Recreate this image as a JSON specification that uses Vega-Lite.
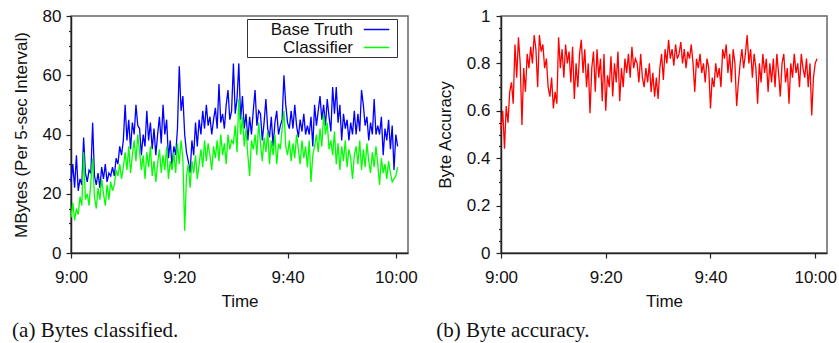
{
  "$schema": "https://vega.github.io/schema/vega-lite/v6.json",
  "padding": {"left": 11, "top": 6, "right": 5, "bottom": 0},
  "config": {
    "view": {"stroke": "#666", "strokeWidth": 1.5},
    "font": "Liberation Sans",
    "axis": {"labelFont": "Liberation Sans", "labelFontSize": 17, "titleFont": "Liberation Sans", "titleFontSize": 17, "titleFontWeight": "normal", "labelColor": "#111", "titleColor": "#111", "domainColor": "#222", "domainWidth": 1.5, "tickColor": "#222", "tickWidth": 1.2, "grid": false},
    "title": {"font": "Liberation Serif", "fontSize": 21, "fontWeight": "normal", "color": "#111", "orient": "bottom", "anchor": "start", "frame": "bounds", "offset": 11},
    "concat": {"spacing": 17}
  },
  "datasets": {
    "d": [
      {"t":0,"b":24,"c":12,"a":0.52},{"t":20,"b":30,"c":17,"a":0.60},{"t":40,"b":22,"c":11,"a":0.44},
      {"t":60,"b":33,"c":15,"a":0.62},{"t":80,"b":21,"c":13,"a":0.55},{"t":100,"b":25,"c":19,"a":0.68},
      {"t":120,"b":23,"c":16,"a":0.72},{"t":140,"b":39,"c":34,"a":0.63},{"t":160,"b":27,"c":18,"a":0.88},
      {"t":180,"b":24,"c":20,"a":0.74},{"t":200,"b":28,"c":16,"a":0.91},{"t":220,"b":27,"c":24,"a":0.80},
      {"t":240,"b":44,"c":32,"a":0.54},{"t":260,"b":26,"c":19,"a":0.78},{"t":280,"b":23,"c":15,"a":0.68},
      {"t":300,"b":27,"c":22,"a":0.84},{"t":320,"b":22,"c":18,"a":0.78},{"t":340,"b":29,"c":25,"a":0.87},
      {"t":360,"b":25,"c":20,"a":0.80},{"t":380,"b":30,"c":16,"a":0.92},{"t":400,"b":24,"c":23,"a":0.86},
      {"t":420,"b":27,"c":18,"a":0.70},{"t":440,"b":26,"c":24,"a":0.92},{"t":460,"b":29,"c":21,"a":0.85},
      {"t":480,"b":26,"c":23,"a":0.88},{"t":500,"b":32,"c":28,"a":0.78},{"t":520,"b":30,"c":26,"a":0.82},
      {"t":540,"b":36,"c":30,"a":0.70},{"t":560,"b":33,"c":25,"a":0.66},{"t":580,"b":38,"c":29,"a":0.74},
      {"t":600,"b":50,"c":34,"a":0.61},{"t":620,"b":38,"c":28,"a":0.68},{"t":640,"b":45,"c":36,"a":0.63},
      {"t":660,"b":35,"c":27,"a":0.91},{"t":680,"b":44,"c":33,"a":0.78},{"t":700,"b":40,"c":38,"a":0.86},
      {"t":720,"b":50,"c":31,"a":0.74},{"t":740,"b":43,"c":40,"a":0.88},{"t":760,"b":42,"c":34,"a":0.80},
      {"t":780,"b":33,"c":28,"a":0.85},{"t":800,"b":40,"c":33,"a":0.72},{"t":820,"b":36,"c":25,"a":0.87},
      {"t":840,"b":48,"c":34,"a":0.65},{"t":860,"b":38,"c":29,"a":0.80},{"t":880,"b":44,"c":36,"a":0.70},
      {"t":900,"b":35,"c":26,"a":0.84},{"t":920,"b":42,"c":31,"a":0.90},{"t":940,"b":33,"c":24,"a":0.76},
      {"t":960,"b":40,"c":30,"a":0.86},{"t":980,"b":46,"c":35,"a":0.70},{"t":1000,"b":37,"c":27,"a":0.80},
      {"t":1020,"b":50,"c":33,"a":0.59},{"t":1040,"b":40,"c":28,"a":0.78},{"t":1060,"b":45,"c":36,"a":0.85},
      {"t":1080,"b":32,"c":25,"a":0.68},{"t":1100,"b":38,"c":31,"a":0.86},{"t":1120,"b":29,"c":28,"a":0.74},
      {"t":1140,"b":36,"c":34,"a":0.82},{"t":1160,"b":33,"c":27,"a":0.64},{"t":1180,"b":42,"c":37,"a":0.84},
      {"t":1200,"b":63,"c":30,"a":0.60},{"t":1220,"b":48,"c":38,"a":0.75},{"t":1240,"b":53,"c":32,"a":0.70},
      {"t":1260,"b":40,"c":7.5,"a":0.83},{"t":1280,"b":34,"c":26,"a":0.66},{"t":1300,"b":31,"c":30,"a":0.80},
      {"t":1320,"b":27,"c":22,"a":0.72},{"t":1340,"b":38,"c":31,"a":0.85},{"t":1360,"b":33,"c":27,"a":0.64},
      {"t":1380,"b":44,"c":33,"a":0.78},{"t":1400,"b":36,"c":25,"a":0.70},{"t":1420,"b":45,"c":30,"a":0.82},
      {"t":1440,"b":40,"c":35,"a":0.76},{"t":1460,"b":48,"c":29,"a":0.84},{"t":1480,"b":42,"c":38,"a":0.74},
      {"t":1500,"b":50,"c":31,"a":0.87},{"t":1520,"b":43,"c":37,"a":0.78},{"t":1540,"b":46,"c":33,"a":0.82},
      {"t":1560,"b":40,"c":28,"a":0.80},{"t":1580,"b":45,"c":36,"a":0.72},{"t":1600,"b":49,"c":32,"a":0.84},
      {"t":1620,"b":42,"c":38,"a":0.74},{"t":1640,"b":57,"c":31,"a":0.70},{"t":1660,"b":44,"c":40,"a":0.78},
      {"t":1680,"b":47,"c":33,"a":0.72},{"t":1700,"b":42,"c":37,"a":0.80},{"t":1720,"b":50,"c":30,"a":0.68},
      {"t":1740,"b":55,"c":40,"a":0.76},{"t":1760,"b":45,"c":35,"a":0.66},{"t":1780,"b":48,"c":38,"a":0.74},
      {"t":1800,"b":64,"c":37,"a":0.65},{"t":1820,"b":47,"c":43,"a":0.78},{"t":1840,"b":52,"c":34,"a":0.84},
      {"t":1860,"b":64,"c":52,"a":0.73},{"t":1880,"b":45,"c":40,"a":0.86},{"t":1900,"b":53,"c":46,"a":0.80},
      {"t":1920,"b":42,"c":36,"a":0.90},{"t":1940,"b":47,"c":42,"a":0.82},{"t":1960,"b":38,"c":33,"a":0.86},
      {"t":1980,"b":46,"c":26,"a":0.79},{"t":2000,"b":40,"c":38,"a":0.88},{"t":2020,"b":48,"c":35,"a":0.82},
      {"t":2040,"b":55,"c":40,"a":0.84},{"t":2060,"b":43,"c":33,"a":0.89},{"t":2080,"b":48,"c":44,"a":0.80},
      {"t":2100,"b":47,"c":37,"a":0.86},{"t":2120,"b":38,"c":31,"a":0.78},{"t":2140,"b":44,"c":39,"a":0.85},
      {"t":2160,"b":52,"c":34,"a":0.82},{"t":2180,"b":42,"c":41,"a":0.88},{"t":2200,"b":39,"c":30,"a":0.80},
      {"t":2220,"b":46,"c":38,"a":0.68},{"t":2240,"b":36,"c":33,"a":0.82},{"t":2260,"b":44,"c":40,"a":0.78},
      {"t":2280,"b":48,"c":30,"a":0.84},{"t":2300,"b":40,"c":37,"a":0.76},{"t":2320,"b":43,"c":35,"a":0.80},
      {"t":2340,"b":45,"c":42,"a":0.72},{"t":2360,"b":60,"c":48,"a":0.82},{"t":2380,"b":50,"c":36,"a":0.78},
      {"t":2400,"b":44,"c":33,"a":0.61},{"t":2420,"b":42,"c":38,"a":0.74},{"t":2440,"b":48,"c":31,"a":0.70},
      {"t":2460,"b":42,"c":37,"a":0.80},{"t":2480,"b":50,"c":32,"a":0.74},{"t":2500,"b":43,"c":40,"a":0.78},
      {"t":2520,"b":39,"c":35,"a":0.70},{"t":2540,"b":45,"c":30,"a":0.86},{"t":2560,"b":41,"c":38,"a":0.82},
      {"t":2580,"b":47,"c":32,"a":0.88},{"t":2600,"b":40,"c":36,"a":0.76},{"t":2620,"b":43,"c":29,"a":0.84},
      {"t":2640,"b":40,"c":38,"a":0.72},{"t":2660,"b":46,"c":24,"a":0.86},{"t":2680,"b":36,"c":33,"a":0.80},
      {"t":2700,"b":50,"c":36,"a":0.62},{"t":2720,"b":43,"c":40,"a":0.72},{"t":2740,"b":48,"c":34,"a":0.80},
      {"t":2760,"b":53,"c":42,"a":0.86},{"t":2780,"b":45,"c":36,"a":0.78},{"t":2800,"b":50,"c":47,"a":0.84},
      {"t":2820,"b":43,"c":40,"a":0.92},{"t":2840,"b":52,"c":44,"a":0.80},{"t":2860,"b":46,"c":35,"a":0.86},
      {"t":2880,"b":41,"c":38,"a":0.74},{"t":2900,"b":56,"c":33,"a":0.84},{"t":2920,"b":47,"c":41,"a":0.78},
      {"t":2940,"b":56,"c":30,"a":0.63},{"t":2960,"b":44,"c":37,"a":0.80},{"t":2980,"b":50,"c":28,"a":0.72},
      {"t":3000,"b":38,"c":36,"a":0.84},{"t":3020,"b":47,"c":31,"a":0.76},{"t":3040,"b":42,"c":38,"a":0.82},
      {"t":3060,"b":45,"c":29,"a":0.68},{"t":3080,"b":38,"c":35,"a":0.80},{"t":3100,"b":44,"c":32,"a":0.72},
      {"t":3120,"b":40,"c":25,"a":0.82},{"t":3140,"b":48,"c":33,"a":0.70},{"t":3160,"b":40,"c":36,"a":0.84},
      {"t":3180,"b":47,"c":30,"a":0.76},{"t":3200,"b":41,"c":38,"a":0.66},{"t":3220,"b":55,"c":28,"a":0.80},
      {"t":3240,"b":50,"c":35,"a":0.84},{"t":3260,"b":43,"c":29,"a":0.72},{"t":3280,"b":46,"c":37,"a":0.78},
      {"t":3300,"b":38,"c":31,"a":0.63},{"t":3320,"b":44,"c":27,"a":0.80},{"t":3340,"b":40,"c":34,"a":0.74},
      {"t":3360,"b":52,"c":29,"a":0.84},{"t":3380,"b":40,"c":36,"a":0.76},{"t":3400,"b":43,"c":30,"a":0.80},
      {"t":3420,"b":40,"c":23,"a":0.70},{"t":3440,"b":46,"c":32,"a":0.84},{"t":3460,"b":33,"c":27,"a":0.78},
      {"t":3480,"b":42,"c":30,"a":0.74},{"t":3500,"b":38,"c":25,"a":0.82},{"t":3520,"b":45,"c":31,"a":0.70},
      {"t":3540,"b":35,"c":27,"a":0.80},{"t":3560,"b":43,"c":24,"a":0.58},{"t":3580,"b":28,"c":25,"a":0.74},
      {"t":3600,"b":40,"c":26,"a":0.80},{"t":3620,"b":36,"c":29,"a":0.82}
    ]
  },
  "hconcat": [
    {
      "width": 337,
      "height": 237,
      "title": "(a) Bytes classified.",
      "data": {"name": "d"},
      "layer": [
        {
          "mark": {"type": "line", "strokeWidth": 1.3},
          "encoding": {
            "x": {"field": "t", "type": "quantitative", "scale": {"domain": [0, 3735], "nice": false, "zero": false},
                  "axis": {"values": [0, 1200, 2400, 3600], "labelExpr": "datum.value == 0 ? '9:00' : datum.value == 1200 ? '9:20' : datum.value == 2400 ? '9:40' : '10:00'", "labelFlush": false, "title": "Time", "tickSize": 5, "labelPadding": 11, "titlePadding": 8}},
            "y": {"field": "b", "type": "quantitative", "scale": {"domain": [0, 80], "nice": false},
                  "axis": {"values": [0, 20, 40, 60, 80], "title": "MBytes (Per 5-sec Interval)", "tickSize": 5, "labelPadding": 5, "titlePadding": 12}},
            "color": {"datum": "Base Truth", "type": "nominal",
                      "scale": {"domain": ["Base Truth", "Classifier"], "range": ["#0000ff", "#00ff00"]},
                      "legend": {"orient": "none", "legendX": 176, "legendY": 3, "direction": "vertical", "title": "\u00a0", "titleOrient": "right", "titlePadding": 4, "titleFontSize": 17, "symbolType": "M-1.5,0H1.5", "symbolSize": 289, "symbolStrokeWidth": 1.5, "labelFont": "Liberation Sans", "labelFontSize": 17, "labelColor": "#111", "labelAlign": "right", "labelOffset": -33, "symbolOffset": 119, "rowPadding": 0, "padding": 1, "strokeColor": "#333", "fillColor": "white"}}
          }
        },
        {
          "mark": {"type": "line", "strokeWidth": 1.3},
          "encoding": {
            "x": {"field": "t", "type": "quantitative", "scale": {"domain": [0, 3735], "nice": false, "zero": false},
                  "axis": {"values": [0, 1200, 2400, 3600], "labelExpr": "datum.value == 0 ? '9:00' : datum.value == 1200 ? '9:20' : datum.value == 2400 ? '9:40' : '10:00'", "labelFlush": false, "title": "Time", "tickSize": 5, "labelPadding": 11, "titlePadding": 8}},
            "y": {"field": "c", "type": "quantitative", "scale": {"domain": [0, 80], "nice": false},
                  "axis": {"orient": "left", "values": [5, 10, 15, 25, 30, 35, 45, 50, 55, 65, 70, 75], "labels": false, "domain": false, "title": null, "tickSize": 2.5}},
            "color": {"datum": "Classifier", "type": "nominal"}
          }
        }
      ],
      "resolve": {"scale": {"y": "independent"}, "axis": {"y": "independent"}}
    },
    {
      "width": 326,
      "height": 237,
      "title": "(b) Byte accuracy.",
      "data": {"name": "d"},
      "layer": [
        {
          "mark": {"type": "line", "color": "#ff0000", "strokeWidth": 1.3},
          "encoding": {
            "x": {"field": "t", "type": "quantitative", "scale": {"domain": [0, 3735], "nice": false, "zero": false},
                  "axis": {"values": [0, 1200, 2400, 3600], "labelExpr": "datum.value == 0 ? '9:00' : datum.value == 1200 ? '9:20' : datum.value == 2400 ? '9:40' : '10:00'", "labelFlush": false, "title": "Time", "tickSize": 5, "labelPadding": 11, "titlePadding": 8}},
            "y": {"field": "a", "type": "quantitative", "scale": {"domain": [0, 1], "nice": false},
                  "axis": {"values": [0, 0.2, 0.4, 0.6, 0.8, 1], "format": "~g", "title": "Byte Accuracy", "tickSize": 5, "labelPadding": 6, "titlePadding": 12}}
          }
        },
        {
          "mark": {"type": "line", "color": "#ff0000", "strokeOpacity": 0},
          "encoding": {
            "x": {"field": "t", "type": "quantitative", "scale": {"domain": [0, 3735], "nice": false, "zero": false},
                  "axis": {"values": [0, 1200, 2400, 3600], "labelExpr": "datum.value == 0 ? '9:00' : datum.value == 1200 ? '9:20' : datum.value == 2400 ? '9:40' : '10:00'", "labelFlush": false, "title": "Time", "tickSize": 5, "labelPadding": 11, "titlePadding": 8}},
            "y": {"field": "a", "type": "quantitative", "scale": {"domain": [0, 1], "nice": false},
                  "axis": {"orient": "left", "values": [0.05, 0.1, 0.15, 0.25, 0.3, 0.35, 0.45, 0.5, 0.55, 0.65, 0.7, 0.75, 0.85, 0.9, 0.95], "labels": false, "domain": false, "title": null, "tickSize": 2.5}}
          }
        }
      ],
      "resolve": {"scale": {"y": "independent"}, "axis": {"y": "independent"}}
    }
  ]
}
